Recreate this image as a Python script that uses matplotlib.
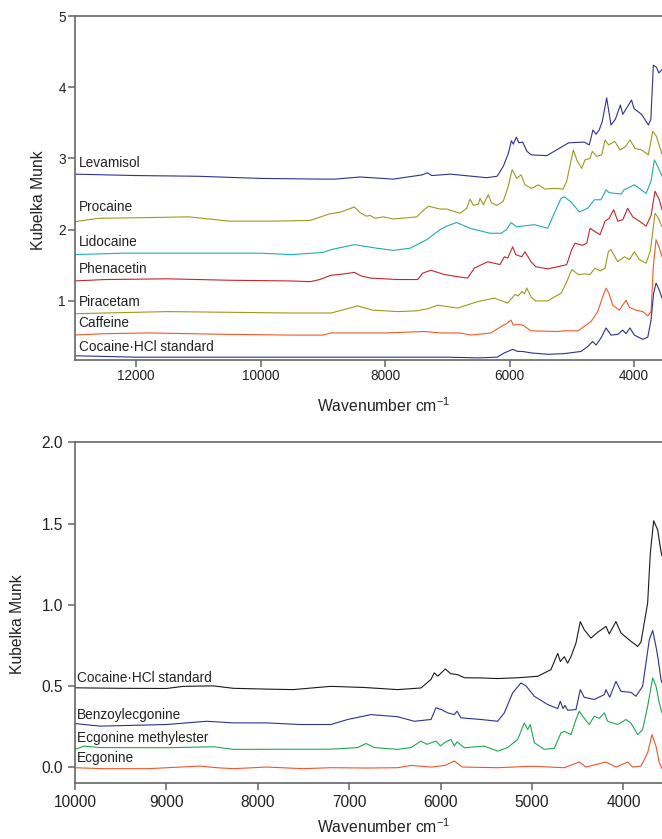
import matplotlib
matplotlib.use("Agg")
import matplotlib.pyplot as plt
import matplotlib.transforms as mtransforms
from matplotlib.ticker import FormatStrFormatter

plt.rcParams["font.family"] = ["Liberation Sans", "DejaVu Sans"]
plt.rcParams["mathtext.default"] = "regular"

# ---- top panel: cutting agents (wavenumber cm-1, Kubelka Munk) ----
lev_x = [13000, 12500, 12000, 11000, 10000, 9000, 8800, 8400, 7870, 7400, 7320, 7250, 6950, 6370, 6200,
         6100, 6020, 5970, 5940, 5890, 5850, 5790, 5720, 5650, 5400, 5050, 4800, 4720, 4660, 4610, 4560,
         4510, 4440, 4370, 4300, 4220, 4180, 4040, 4000, 3880, 3770, 3730, 3690, 3640, 3600, 3550]
lev_y = [2.78, 2.77, 2.76, 2.75, 2.72, 2.71, 2.71, 2.74, 2.71, 2.77, 2.80, 2.76, 2.78, 2.73, 2.75,
         2.89, 3.07, 3.25, 3.20, 3.30, 3.22, 3.23, 3.10, 3.05, 3.04, 3.22, 3.23, 3.19, 3.40, 3.34, 3.40,
         3.52, 3.85, 3.47, 3.55, 3.75, 3.62, 3.82, 3.70, 3.62, 3.47, 3.55, 4.31, 4.28, 4.20, 4.25]

pro_x = [13000, 12600, 11800, 11150, 10500, 9800, 9200, 8900, 8700, 8493, 8402, 8300, 8241, 8161, 8028,
         7867, 7491, 7411, 7305, 7117, 7009, 6796, 6688, 6635, 6580, 6500, 6474, 6420, 6341, 6290, 6206,
         6100, 6020, 5965, 5955, 5885, 5816, 5752, 5650, 5538, 5430, 5270, 5140, 5082, 4975, 4920, 4841,
         4787, 4710, 4670, 4600, 4520, 4466, 4410, 4310, 4225, 4145, 4065, 3985, 3877, 3771, 3700, 3640, 3555]
pro_y = [2.11, 2.16, 2.17, 2.18, 2.12, 2.12, 2.13, 2.22, 2.25, 2.32, 2.24, 2.19, 2.20, 2.16, 2.18,
         2.15, 2.18, 2.25, 2.33, 2.29, 2.29, 2.23, 2.30, 2.43, 2.34, 2.36, 2.44, 2.35, 2.49, 2.38, 2.34,
         2.40, 2.61, 2.82, 2.84, 2.72, 2.77, 2.63, 2.58, 2.63, 2.57, 2.58, 2.57, 2.68, 3.12, 2.98, 2.86,
         2.98, 3.00, 3.10, 3.03, 3.05, 3.26, 3.19, 3.24, 3.12, 3.16, 3.26, 3.14, 3.12, 3.05, 3.38, 3.31, 3.07]

lid_x = [13000, 12200, 11000, 10000, 9500, 9000, 8868, 8493, 8134, 7867, 7599, 7330, 7117, 7009, 6849,
         6635, 6314, 6137, 6050, 5976, 5885, 5800, 5602, 5387, 5281, 5173, 5120, 5013, 4879, 4744, 4638,
         4530, 4450, 4400, 4209, 4160, 3996, 3807, 3727, 3674, 3620, 3550]
lid_y = [1.65, 1.67, 1.67, 1.67, 1.65, 1.68, 1.72, 1.79, 1.74, 1.71, 1.74, 1.86, 2.00, 2.05, 2.10,
         2.02, 1.95, 1.95, 2.00, 2.10, 2.04, 2.05, 2.07, 2.02, 2.23, 2.44, 2.46, 2.39, 2.25, 2.30, 2.42,
         2.42, 2.56, 2.52, 2.50, 2.56, 2.63, 2.51, 2.68, 2.98, 2.89, 2.75]

phe_x = [13000, 12500, 11500, 10500, 9500, 9200, 9050, 8868, 8650, 8493, 8380, 8225, 7796, 7475, 7395,
         7261, 7048, 6833, 6672, 6566, 6350, 6153, 6084, 6030, 5949, 5900, 5804, 5752, 5655, 5580, 5387,
         5120, 5082, 5001, 4948, 4830, 4760, 4707, 4640, 4546, 4466, 4400, 4327, 4262, 4182, 4102, 4021,
         3915, 3807, 3727, 3663, 3594, 3550]
phe_y = [1.28, 1.30, 1.31, 1.29, 1.28, 1.27, 1.30, 1.36, 1.38, 1.40, 1.35, 1.32, 1.30, 1.30, 1.39,
         1.43, 1.37, 1.34, 1.32, 1.46, 1.55, 1.51, 1.62, 1.60, 1.76, 1.65, 1.62, 1.69, 1.55, 1.48, 1.45,
         1.50, 1.51, 1.72, 1.81, 1.78, 1.81, 2.02, 1.98, 1.93, 2.12, 2.16, 2.28, 2.12, 2.14, 2.30, 2.18,
         2.12, 2.05, 2.20, 2.54, 2.42, 2.28]

pir_x = [13000, 12500, 11500, 10500, 9500, 8868, 8650, 8439, 8200, 7796, 7500, 7314, 7154, 6833, 6511,
         6244, 6030, 5912, 5860, 5804, 5760, 5724, 5650, 5580, 5387, 5170, 5090, 5001, 4894, 4787, 4707,
         4627, 4546, 4466, 4413, 4370, 4262, 4155, 4075, 3996, 3915, 3807, 3738, 3663, 3620, 3550]
pir_y = [0.82, 0.83, 0.85, 0.84, 0.83, 0.83, 0.88, 0.93, 0.87, 0.85, 0.86, 0.89, 0.94, 0.90, 0.99,
         1.04, 0.97, 1.09, 1.07, 1.13, 1.10, 1.18, 1.05, 1.00, 1.00, 1.11, 1.25, 1.44, 1.37, 1.38, 1.37,
         1.46, 1.42, 1.46, 1.69, 1.72, 1.55, 1.62, 1.58, 1.69, 1.58, 1.53, 1.70, 2.23, 2.18, 2.04]

caf_x = [13000, 12500, 11800, 10500, 9500, 9000, 8868, 8000, 7369, 7100, 6800, 6619, 6300, 6137, 6050,
         5976, 5940, 5850, 5789, 5655, 5227, 5120, 4900, 4691, 4584, 4503, 4450, 4400, 4343, 4236, 4129,
         4075, 3968, 3860, 3780, 3727, 3690, 3647, 3600, 3550]
caf_y = [0.52, 0.54, 0.55, 0.53, 0.52, 0.52, 0.55, 0.55, 0.57, 0.55, 0.55, 0.52, 0.55, 0.64, 0.68,
         0.73, 0.66, 0.67, 0.66, 0.58, 0.57, 0.58, 0.58, 0.71, 0.85, 1.06, 1.18, 1.10, 0.94, 0.87, 1.01,
         0.91, 0.87, 0.85, 0.79, 0.85, 1.48, 1.86, 1.76, 1.62]

coc_x = [13000, 12000, 11000, 10000, 9000, 8000, 7000, 6500, 6200, 6084, 5949, 5870, 5789, 5655, 5387,
         5120, 4852, 4744, 4664, 4610, 4530, 4450, 4370, 4262, 4182, 4129, 4065, 3996, 3860, 3780, 3727,
         3685, 3647, 3594, 3550]
coc_y = [0.23, 0.21, 0.21, 0.21, 0.21, 0.21, 0.21, 0.20, 0.21, 0.27, 0.32, 0.29, 0.29, 0.27, 0.25,
         0.26, 0.29, 0.36, 0.43, 0.38, 0.48, 0.62, 0.52, 0.53, 0.59, 0.54, 0.62, 0.52, 0.46, 0.49, 0.73,
         1.11, 1.25, 1.15, 1.04]

# ---- bottom panel: cocaine and metabolites ----
cocb_x = [10000, 9500, 8997, 8816, 8487, 8268, 7900, 7612, 7350, 7199, 6835, 6470, 6215, 6105, 6070,
          6030, 5949, 5890, 5813, 5740, 5560, 5376, 5157, 4938, 4793, 4719, 4690, 4647, 4610, 4574, 4519,
          4472, 4428, 4355, 4282, 4191, 4155, 4082, 4027, 3917, 3844, 3808, 3735, 3706, 3669, 3625, 3589, 3578]
cocb_y = [0.488, 0.485, 0.484, 0.497, 0.500, 0.485, 0.480, 0.477, 0.490, 0.497, 0.490, 0.477, 0.487, 0.540, 0.580,
          0.560, 0.604, 0.575, 0.569, 0.550, 0.549, 0.545, 0.550, 0.559, 0.600, 0.700, 0.650, 0.680, 0.640, 0.680, 0.764,
          0.896, 0.845, 0.794, 0.830, 0.866, 0.820, 0.896, 0.826, 0.774, 0.743, 0.770, 1.010, 1.317, 1.517, 1.460, 1.327, 1.300]

bze_x = [10000, 9726, 8997, 8559, 8268, 7904, 7539, 7200, 7017, 6762, 6470, 6288, 6105, 6051, 5996,
         5923, 5851, 5821, 5777, 5558, 5376, 5303, 5212, 5121, 5066, 4975, 4829, 4719, 4691, 4660, 4640,
         4610, 4519, 4472, 4430, 4319, 4210, 4191, 4150, 4082, 4027, 3917, 3863, 3790, 3717, 3680, 3644,
         3619, 3589, 3578]
bze_y = [0.268, 0.252, 0.262, 0.282, 0.272, 0.272, 0.262, 0.262, 0.293, 0.323, 0.310, 0.282, 0.293, 0.365, 0.355,
         0.334, 0.323, 0.344, 0.303, 0.293, 0.282, 0.334, 0.457, 0.518, 0.500, 0.436, 0.385, 0.360, 0.405, 0.360, 0.380,
         0.350, 0.354, 0.477, 0.430, 0.416, 0.446, 0.477, 0.430, 0.528, 0.466, 0.460, 0.436, 0.497, 0.784, 0.841, 0.743,
         0.661, 0.538, 0.520]

eme_x = [10000, 9900, 9726, 8997, 8487, 8268, 7200, 6907, 6817, 6725, 6470, 6324, 6215, 6150, 6051,
         6000, 5960, 5887, 5850, 5821, 5740, 5522, 5376, 5267, 5157, 5085, 5048, 5019, 4975, 4866, 4756,
         4683, 4647, 4574, 4519, 4483, 4429, 4374, 4319, 4264, 4209, 4173, 4063, 3972, 3917, 3844, 3790,
         3735, 3680, 3644, 3608, 3578]
eme_y = [0.109, 0.129, 0.120, 0.119, 0.125, 0.109, 0.110, 0.120, 0.145, 0.120, 0.109, 0.120, 0.160, 0.140, 0.160,
         0.130, 0.150, 0.170, 0.130, 0.155, 0.119, 0.129, 0.098, 0.120, 0.170, 0.272, 0.232, 0.262, 0.150, 0.109, 0.115,
         0.211, 0.220, 0.200, 0.293, 0.344, 0.300, 0.262, 0.313, 0.300, 0.334, 0.282, 0.262, 0.293, 0.270, 0.200, 0.230,
         0.375, 0.549, 0.500, 0.395, 0.334]

ecg_x = [10000, 9700, 9200, 8633, 8450, 8268, 7904, 7500, 7200, 6800, 6470, 6324, 6105, 5950, 5851,
         5760, 5376, 5000, 4647, 4483, 4410, 4191, 4080, 3954, 3900, 3808, 3735, 3688, 3644, 3608, 3578]
ecg_y = [-0.004, -0.010, -0.010, 0.006, -0.004, -0.010, 0.000, -0.010, -0.004, -0.006, -0.004, 0.010, 0.000, 0.010, 0.037,
         0.000, -0.004, 0.005, -0.004, 0.031, 0.000, 0.031, 0.000, 0.031, 0.000, 0.006, 0.088, 0.200, 0.129, 0.027, -0.010]

top_names = ["Levamisol", "Procaine", "Lidocaine", "Phenacetin", "Piracetam", "Caffeine",
             "Cocaine\u00b7HCl standard"]
top_series = [(lev_x, lev_y), (pro_x, pro_y), (lid_x, lid_y), (phe_x, phe_y),
              (pir_x, pir_y), (caf_x, caf_y), (coc_x, coc_y)]
top_colors = ["#2e3192", "#9c9a1e", "#22acac", "#c1272d", "#9c9a1e", "#f15a29", "#2e3192"]
top_label_y = [2.94, 2.32, 1.83, 1.45, 0.99, 0.69, 0.35]

bot_names = ["Cocaine\u00b7HCl standard", "Benzoylecgonine", "Ecgonine methylester", "Ecgonine"]
bot_series = [(cocb_x, cocb_y), (bze_x, bze_y), (eme_x, eme_y), (ecg_x, ecg_y)]
bot_colors = ["#1a1a1a", "#2e3192", "#1daa4f", "#f1542a"]
bot_label_y = [0.549, 0.323, 0.18, 0.057]

spine_col = "#666666"
fig = plt.figure(figsize=(6.62, 8.39), dpi=100)
ax1 = fig.add_axes([0.1133, 0.5709, 0.8867, 0.4100])
ax2 = fig.add_axes([0.1133, 0.0664, 0.8867, 0.4064])


def style(ax, tick_size, pad):
    for side in ["left", "bottom", "top"]:
        ax.spines[side].set_color(spine_col)
        ax.spines[side].set_linewidth(1.2)
    ax.spines["right"].set_visible(False)
    ax.tick_params(direction="out", length=5, width=1.1, color=spine_col,
                   labelsize=tick_size, labelcolor="#222222", pad=pad)
    ax.tick_params(top=False, right=False)


for (x, y), c in zip(top_series, top_colors):
    ax1.plot(x, y, color=c, lw=0.8)
tr1 = mtransforms.blended_transform_factory(ax1.transAxes, ax1.transData)
for name, ly in zip(top_names, top_label_y):
    ax1.text(0.006, ly, name, transform=tr1, fontsize=9.8, color="#222222", va="center", ha="left")
ax1.set_xlim(12980, 3551)
ax1.set_ylim(0.17, 5)
ax1.set_xticks([12000, 10000, 8000, 6000, 4000])
ax1.set_yticks([1, 2, 3, 4, 5])
style(ax1, 9.8, 1.5)
ax1.set_xlabel("Wavenumber cm$^{-1}$", fontsize=11.3, color="#222222")
ax1.set_ylabel("Kubelka Munk", fontsize=11.3, color="#222222")
ax1.xaxis.set_label_coords(0.525, -0.105)
ax1.yaxis.set_label_coords(-0.05, 0.465)

for (x, y), c in zip(bot_series, bot_colors):
    ax2.plot(x, y, color=c, lw=0.8)
tr2 = mtransforms.blended_transform_factory(ax2.transAxes, ax2.transData)
for name, ly in zip(bot_names, bot_label_y):
    ax2.text(0.004, ly, name, transform=tr2, fontsize=9.8, color="#222222", va="center", ha="left")
ax2.set_xlim(10000, 3578)
ax2.set_ylim(-0.1, 2.0)
ax2.set_xticks([10000, 9000, 8000, 7000, 6000, 5000, 4000])
ax2.set_yticks([0.0, 0.5, 1.0, 1.5, 2.0])
ax2.yaxis.set_major_formatter(FormatStrFormatter("%.1f"))
style(ax2, 11.2, 3.5)
ax2.set_xlabel("Wavenumber cm$^{-1}$", fontsize=11.3, color="#222222")
ax2.set_ylabel("Kubelka Munk", fontsize=11.3, color="#222222")
ax2.xaxis.set_label_coords(0.525, -0.100)
ax2.yaxis.set_label_coords(-0.085, 0.467)

fig.savefig("out.png", dpi=100)
